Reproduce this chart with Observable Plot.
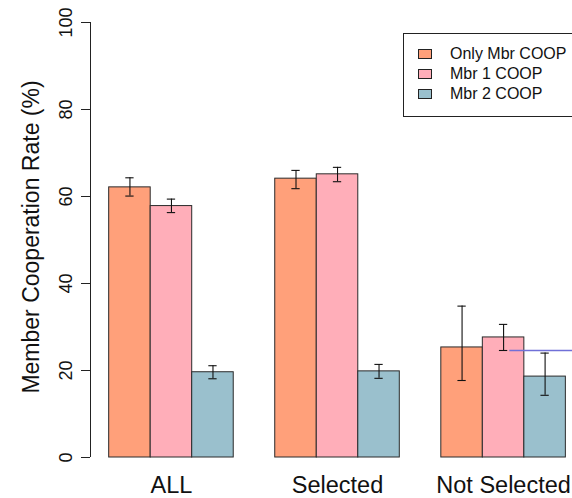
<!DOCTYPE html>
<html>
<head>
<meta charset="utf-8">
<script src="https://cdn.jsdelivr.net/npm/d3@7"></script>
<script src="https://cdn.jsdelivr.net/npm/@observablehq/plot@0.6"></script>
<style>
  html, body { margin: 0; padding: 0; background: #fff; overflow: hidden; }
  #wrap { position: relative; width: 572px; height: 498px; overflow: hidden; font-family: "Liberation Sans", Arial, sans-serif; }
  #legend { position: absolute; left: 403px; top: 33px; width: 200px; height: 84px; border: 1px solid #222; box-sizing: border-box; background: #fff; }
  .item { position: absolute; left: 14px; height: 20px; display: flex; align-items: center; font-size: 16px; color: #111; white-space: nowrap; }
  .sw { width: 14px; height: 10px; border: 1px solid #222; margin-right: 18px; box-sizing: border-box; }
</style>
</head>
<body>
<div id="wrap"></div>
<script>
// ---- data ----
const groups = ["ALL", "Selected", "Not Selected"];
const series = ["Only Mbr COOP", "Mbr 1 COOP", "Mbr 2 COOP"];
const colors = ["#FFA07A", "#FFAEB9", "#9AC0CD"];

const onlyMbrMean  = [62.1, 64.1, 25.3];
const onlyMbrLower = [60.1, 61.8, 17.7];
const onlyMbrUpper = [64.3, 66.0, 34.8];

const mbr1Mean  = [57.8, 65.1, 27.6];
const mbr1Lower = [56.3, 63.4, 24.6];
const mbr1Upper = [59.4, 66.7, 30.6];

const mbr2Mean  = [19.6, 19.8, 18.6];
const mbr2Lower = [18.1, 18.2, 14.3];
const mbr2Upper = [21.1, 21.4, 24.0];

const yTicks = [0, 20, 40, 60, 80, 100];
const yLabel = "Member Cooperation Rate (%)";
const refLineValue = [24.6];

// ---- build table (barplot layout: bars width 1, one-bar gap between groups) ----
const means = [onlyMbrMean, mbr1Mean, mbr2Mean];
const lowers = [onlyMbrLower, mbr1Lower, mbr2Lower];
const uppers = [onlyMbrUpper, mbr1Upper, mbr2Upper];
const rows = [];
groups.forEach((g, gi) => {
  series.forEach((s, si) => {
    const left = 1 + gi * 4 + si;
    rows.push({group: g, series: s, x1: left, x2: left + 1, xc: left + 0.5,
      value: means[si][gi], lo: lowers[si][gi], hi: uppers[si][gi]});
  });
});
const groupCenters = groups.map((g, gi) => 1 + gi * 4 + 1.5);
const capHalf = 0.1;
const xMin = 0.55, xMax = 12.16;

const chart = Plot.plot({
  width: 572,
  height: 498,
  marginLeft: 90,
  marginRight: 0,
  marginTop: 22,
  marginBottom: 41,
  style: {fontFamily: "'Liberation Sans', Arial, sans-serif", background: "#fff", color: "#111"},
  x: {domain: [xMin, xMax], axis: null},
  y: {domain: [0, 100], axis: null},
  color: {domain: series, range: colors},
  marks: [
    Plot.rectY(rows, {x1: "x1", x2: "x2", y1: 0, y2: "value", fill: "series", stroke: "#2a2a2a", strokeWidth: 1}),
    Plot.ruleX(rows, {x: "xc", y1: "lo", y2: "hi", stroke: "#111", strokeWidth: 1.1}),
    Plot.ruleY(rows, {y: "lo", x1: d => d.xc - capHalf, x2: d => d.xc + capHalf, stroke: "#111", strokeWidth: 1.1}),
    Plot.ruleY(rows, {y: "hi", x1: d => d.xc - capHalf, x2: d => d.xc + capHalf, stroke: "#111", strokeWidth: 1.1}),
    Plot.ruleY(refLineValue, {y: d => d, x1: 10.65, x2: xMax, stroke: "#7070d8", strokeWidth: 1.3}),
    // y axis line, ticks and rotated labels
    Plot.ruleX([xMin], {x: d => d, y1: 0, y2: 100, stroke: "#222", strokeWidth: 1}),
    Plot.axisY({ticks: yTicks, tickSize: 9, tickPadding: 10, tickRotate: -90, fontSize: 18, label: null, stroke: "#222"}),
    Plot.text([yLabel], {frameAnchor: "left", dx: -52, dy: -3, rotate: -90, textAnchor: "middle", lineAnchor: "bottom", fontSize: 23, fill: "#111", text: d => d}),
    // group labels
    Plot.axisX({ticks: groupCenters, tickFormat: (d, i) => groups[i], tickSize: 0, tickPadding: 19, fontSize: 23.5, label: null})
  ]
});
document.getElementById("wrap").appendChild(chart);

// legend inside the plot area (as in the reference)
const legend = document.createElement("div");
legend.id = "legend";
series.forEach((s, i) => {
  const it = document.createElement("div");
  it.className = "item";
  it.style.top = (10 + i * 20) + "px";
  const sw = document.createElement("span");
  sw.className = "sw";
  sw.style.background = colors[i];
  it.appendChild(sw);
  it.appendChild(document.createTextNode(s));
  legend.appendChild(it);
});
document.getElementById("wrap").appendChild(legend);
</script>
</body>
</html>
